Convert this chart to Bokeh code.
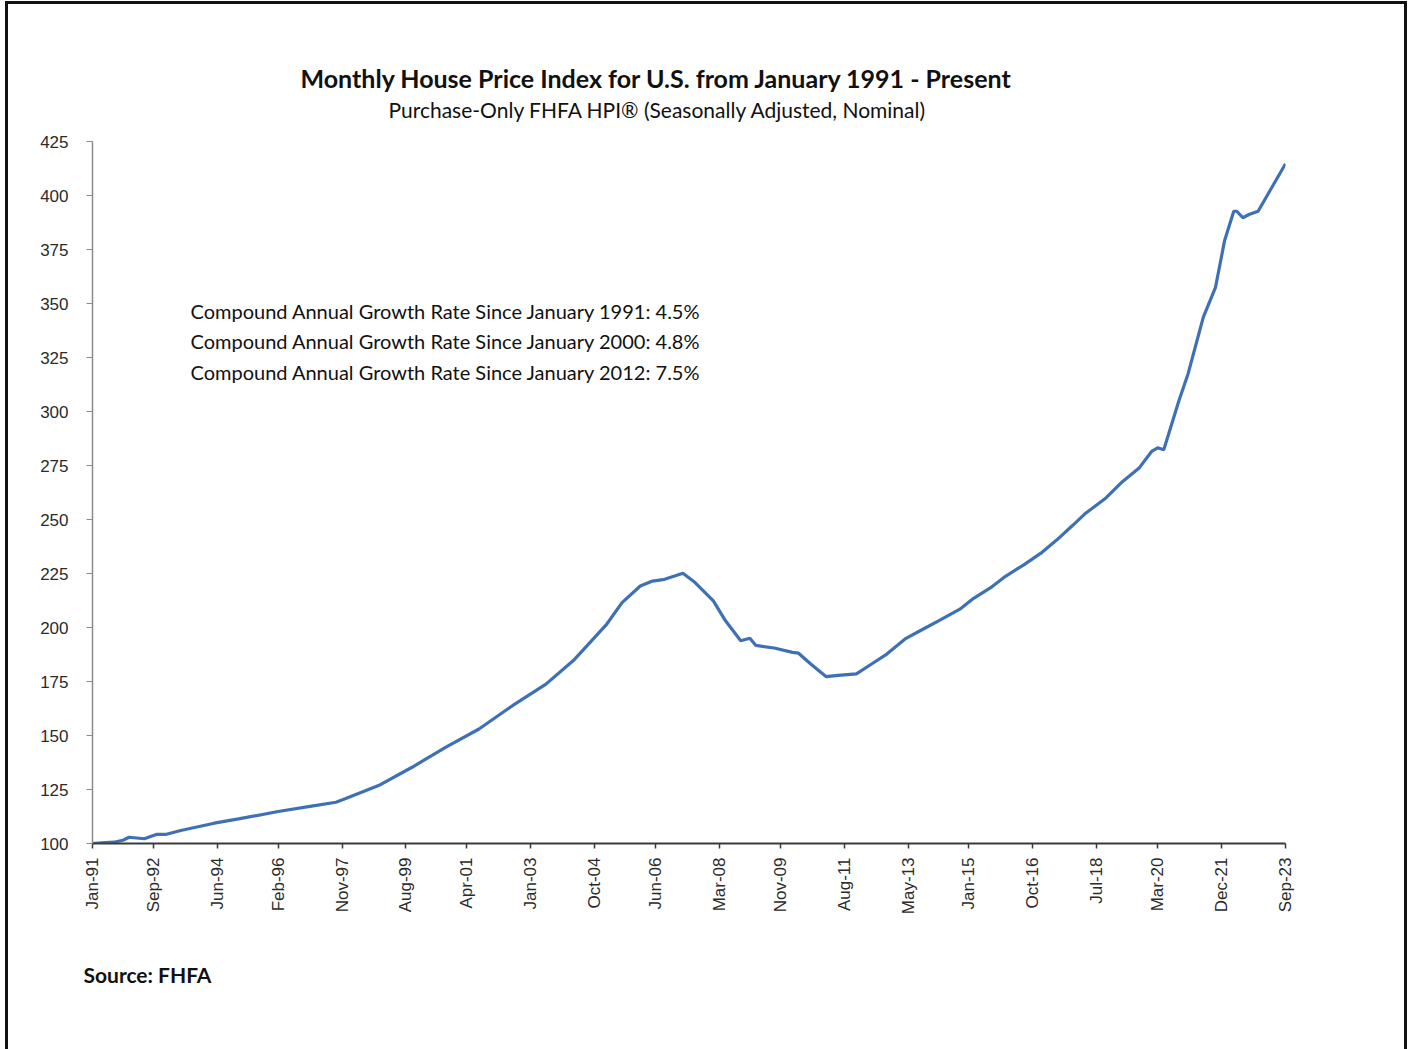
import math
from bokeh.plotting import figure
from bokeh.models import Range1d, FixedTicker, Label, Title
from bokeh.embed import file_html
from bokeh.resources import INLINE

# ---------------- data ----------------
title_text = "Monthly House Price Index for U.S. from January 1991 - Present"
subtitle_text = "Purchase-Only FHFA HPI\u00ae (Seasonally Adjusted, Nominal)"
source_text = "Source: FHFA"
cagr_lines = [
    "Compound Annual Growth Rate Since January 1991: 4.5%",
    "Compound Annual Growth Rate Since January 2000: 4.8%",
    "Compound Annual Growth Rate Since January 2012: 7.5%",
]

x_tick_labels = ["Jan-91", "Sep-92", "Jun-94", "Feb-96", "Nov-97", "Aug-99", "Apr-01",
                 "Jan-03", "Oct-04", "Jun-06", "Mar-08", "Nov-09", "Aug-11", "May-13",
                 "Jan-15", "Oct-16", "Jul-18", "Mar-20", "Dec-21", "Sep-23"]
y_tick_values = [100, 125, 150, 175, 200, 225, 250, 275, 300, 325, 350, 375, 400, 425]

dates = ["1991-01", "1991-04", "1991-08", "1991-11", "1992-01", "1992-06", "1992-10",
         "1993-01", "1993-06", "1994-05", "1995-01", "1996-02", "1997-01", "1997-09",
         "1997-12", "1998-11", "1999-10", "2000-09", "2001-08", "2002-07", "2003-06",
         "2004-03", "2005-02", "2005-07", "2006-01", "2006-05", "2006-09", "2007-03",
         "2007-07", "2008-01", "2008-05", "2008-10", "2009-01", "2009-03", "2009-09",
         "2010-03", "2010-05", "2010-09", "2011-02", "2011-06", "2011-12", "2012-05",
         "2012-10", "2013-04", "2013-10", "2014-03", "2014-10", "2015-02", "2015-08",
         "2016-01", "2016-07", "2017-01", "2017-06", "2017-11", "2018-03", "2018-10",
         "2019-03", "2019-09", "2020-01", "2020-03", "2020-05", "2020-10", "2021-01",
         "2021-06", "2021-10", "2022-01", "2022-04", "2022-05", "2022-07", "2022-09",
         "2022-12", "2023-09"]
hpi = [100.0, 100.3, 100.6, 101.5, 102.9, 102.2, 104.2,
       104.2, 106.0, 109.4, 111.4, 114.8, 117.3, 119.1,
       120.7, 126.8, 135.3, 144.5, 153.0, 163.8, 173.8,
       184.7, 201.6, 211.5, 219.2, 221.5, 222.3, 225.1,
       220.8, 212.3, 203.1, 193.9, 195.0, 191.7, 190.5,
       188.5, 188.1, 183.1, 177.3, 177.8, 178.5, 183.1,
       187.7, 194.7, 199.3, 203.1, 208.5, 213.0, 218.3,
       223.7, 229.0, 234.8, 240.7, 247.2, 252.5, 260.0,
       267.0, 274.0, 281.5, 283.2, 282.3, 305.1, 317.5,
       343.7, 357.5, 379.2, 392.7, 392.7, 389.7, 391.2,
       392.7, 414.7]

# ---------------- helpers ----------------
MONTHS = ["Jan", "Feb", "Mar", "Apr", "May", "Jun", "Jul", "Aug", "Sep", "Oct", "Nov", "Dec"]


def idx_from_label(lbl):
    m, yy = lbl.split("-")
    yy = int(yy)
    year = 1900 + yy if yy > 50 else 2000 + yy
    return (year - 1991) * 12 + MONTHS.index(m)


def idx_from_date(d):
    y, m = d.split("-")
    return (int(y) - 1991) * 12 + int(m) - 1


x = [idx_from_date(d) for d in dates]
tick_pos = [idx_from_label(l) for l in x_tick_labels]

# ---------------- figure ----------------
FRAME_L, FRAME_B = 92, 843
p = figure(width=1413, height=1049, output_backend="svg", toolbar_location=None,
           x_range=Range1d(0, tick_pos[-1]), y_range=Range1d(100, 425),
           min_border_left=92, min_border_right=128, min_border_top=141,
           min_border_bottom=206)
p.outline_line_color = None
p.background_fill_color = "white"
p.border_fill_alpha = 0
p.xgrid.visible = False
p.ygrid.visible = False
# outer picture frame (left, top and right edges) drawn behind the canvas
p.styles = {
    "background-color": "white",
    "box-shadow": ("inset 5px 0 0 0 #ffffff, inset 0 1px 0 0 #ffffff, "
                   "inset -6px 0 0 0 #ffffff, inset 8px 0 0 0 #111111, "
                   "inset 0 4px 0 0 #111111, inset -9px 0 0 0 #111111"),
}

p.line(x, hpi, line_color="#3E70B5", line_width=3.2)

# y axis
ya = p.yaxis[0]
ya.ticker = FixedTicker(ticks=y_tick_values)
ya.axis_line_color = "#8a8a8a"
ya.axis_line_width = 1.5
ya.major_tick_line_color = "#8a8a8a"
ya.major_tick_in = 0
ya.major_tick_out = 6
ya.minor_tick_line_color = None
ya.major_label_text_font = "Liberation Sans"
ya.major_label_text_font_size = "17px"
ya.major_label_text_color = "#2b2b2b"
ya.major_label_standoff = 18

# x axis
xa = p.xaxis[0]
xa.ticker = FixedTicker(ticks=tick_pos)
xa.major_label_overrides = {pos: lbl for pos, lbl in zip(tick_pos, x_tick_labels)}
xa.major_label_orientation = math.pi / 2
xa.axis_line_color = "#3a3a3a"
xa.axis_line_width = 2
xa.major_tick_line_color = "#3a3a3a"
xa.major_tick_line_width = 1.5
xa.major_tick_in = 0
xa.major_tick_out = 5
xa.minor_tick_line_color = None
xa.major_label_text_font = "Liberation Sans"
xa.major_label_text_font_size = "17px"
xa.major_label_text_color = "#2b2b2b"
xa.major_label_standoff = 9

# titles (in the panel above the frame), source (below)
p.add_layout(Title(text=subtitle_text, align="left", text_font="Lato",
                   text_font_style="normal", text_font_size="21px",
                   text_color="#111111", offset=388 - FRAME_L, standoff=39), "above")
p.add_layout(Title(text=title_text, align="left", text_font="Lato",
                   text_font_style="bold", text_font_size="25px",
                   text_color="#111111", offset=300 - FRAME_L, standoff=-35), "above")
p.add_layout(Title(text=source_text, align="left", text_font="Lato",
                   text_font_style="bold", text_font_size="21px",
                   text_color="#111111", offset=-9, standoff=84), "below")

# growth-rate notes inside the frame
for i, line in enumerate(cagr_lines):
    p.add_layout(Label(x=190 - FRAME_L, y=FRAME_B - (310 + 30.5 * i),
                       x_units="screen", y_units="screen",
                       text=line, text_font="Lato", text_font_size="20px",
                       text_color="#111111", text_align="left", text_baseline="middle"))

open("out.html", "w").write(file_html(p, INLINE))
